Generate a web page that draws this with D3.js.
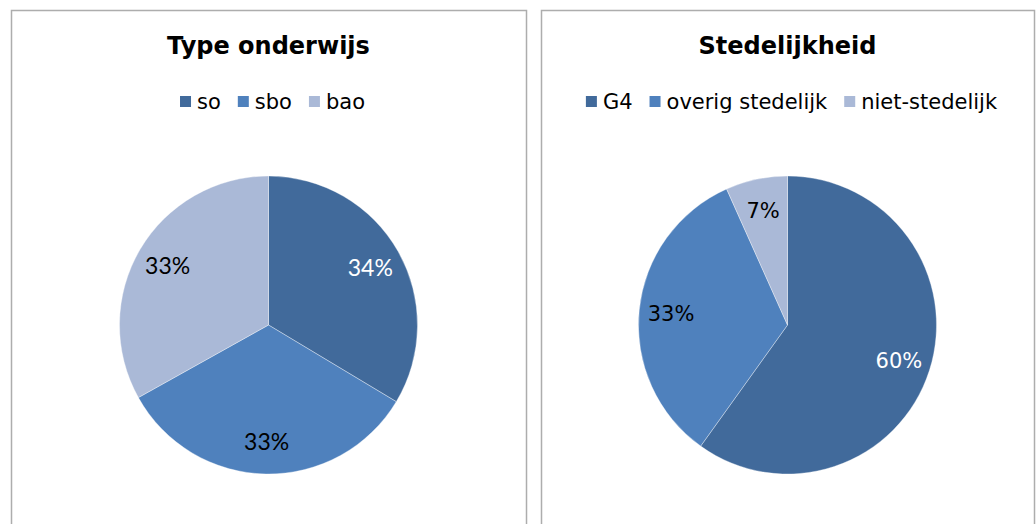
<!DOCTYPE html>
<html lang="nl">
<head>
<meta charset="UTF-8" />
<title>Type onderwijs / Stedelijkheid</title>
<style>
  body { margin: 0; background: #fff; }
  svg text { font-family: "DejaVu Sans", Verdana, sans-serif; }
  svg text.pct-lato { font-family: Lato, "DejaVu Sans", sans-serif; }
</style>
</head>
<body>
<svg id="chart" width="1036" height="524"></svg>

<script src="https://d3js.org/d3.v7.min.js"></script>
<script>
// data
var typeLabels = ["so", "sbo", "bao"];
var typeValues = [33.6, 33.3, 33.1];

var stadLabels = ["G4", "overig stedelijk", "niet-stedelijk"];
var stadValues = [59.9, 33.4, 6.7];

var colors = ["#416a9b", "#4f81bd", "#aab9d7"];
var labelColors = ["#ffffff", "#000000", "#000000"];

var svg = d3.select("#chart");

// draw one panel with title, legend and pie
function drawPanel(x0, x1, title, labels, values, pctClass, pctSize) {
  var cx = (x0 + x1) / 2;
  var g = svg.append("g");

  g.append("rect")
    .attr("x", x0 + 0.5)
    .attr("y", 10.5)
    .attr("width", x1 - x0)
    .attr("height", 600)
    .attr("fill", "#fff")
    .attr("stroke", "#adadad")
    .attr("stroke-width", 1.5);

  g.append("text")
    .attr("x", cx)
    .attr("y", 54)
    .attr("text-anchor", "middle")
    .attr("font-size", 24)
    .attr("font-weight", "bold")
    .text(title);

  // legend: measure items then center
  var leg = g.append("g");
  var pos = 0;
  labels.forEach(function(l, i) {
    var item = leg.append("g").attr("transform", "translate(" + pos + ",0)");
    item.append("rect")
      .attr("x", 0).attr("y", 96)
      .attr("width", 11).attr("height", 11)
      .attr("fill", colors[i]);
    var t = item.append("text")
      .attr("x", 17).attr("y", 108.5)
      .attr("font-size", 21)
      .attr("fill", "#000")
      .text(l);
    pos += 17 + t.node().getComputedTextLength() + 17;
  });
  var legW = pos - 17;
  leg.attr("transform", "translate(" + (cx + 4 - legW / 2) + ",0)");

  // pie
  var r = 149;
  var pie = d3.pie().sort(null).value(function(d) { return d; });
  var arc = d3.arc().innerRadius(0).outerRadius(r);
  var labelArc = d3.arc().innerRadius(117).outerRadius(117);
  var total = d3.sum(values);

  var pg = g.append("g").attr("transform", "translate(" + cx + ",325)");
  var arcs = pie(values);

  pg.selectAll("path")
    .data(arcs)
    .enter()
    .append("path")
    .attr("d", arc)
    .attr("fill", function(d, i) { return colors[i]; })
    .attr("stroke", "#ffffff")
    .attr("stroke-opacity", 0.5)
    .attr("stroke-width", 0.7);

  pg.selectAll("text")
    .data(arcs)
    .enter()
    .append("text")
    .attr("class", pctClass)
    .attr("transform", function(d) { return "translate(" + labelArc.centroid(d) + ")"; })
    .attr("text-anchor", "middle")
    .attr("dy", "0.36em")
    .attr("font-size", pctSize)
    .attr("fill", function(d, i) { return labelColors[i]; })
    .text(function(d) { return Math.round(d.value / total * 100) + "%"; });
}

drawPanel(11, 526, "Type onderwijs", typeLabels, typeValues, "pct-lato", 23);
drawPanel(541, 1034, "Stedelijkheid", stadLabels, stadValues, "pct", 21);
</script>
</body>
</html>
